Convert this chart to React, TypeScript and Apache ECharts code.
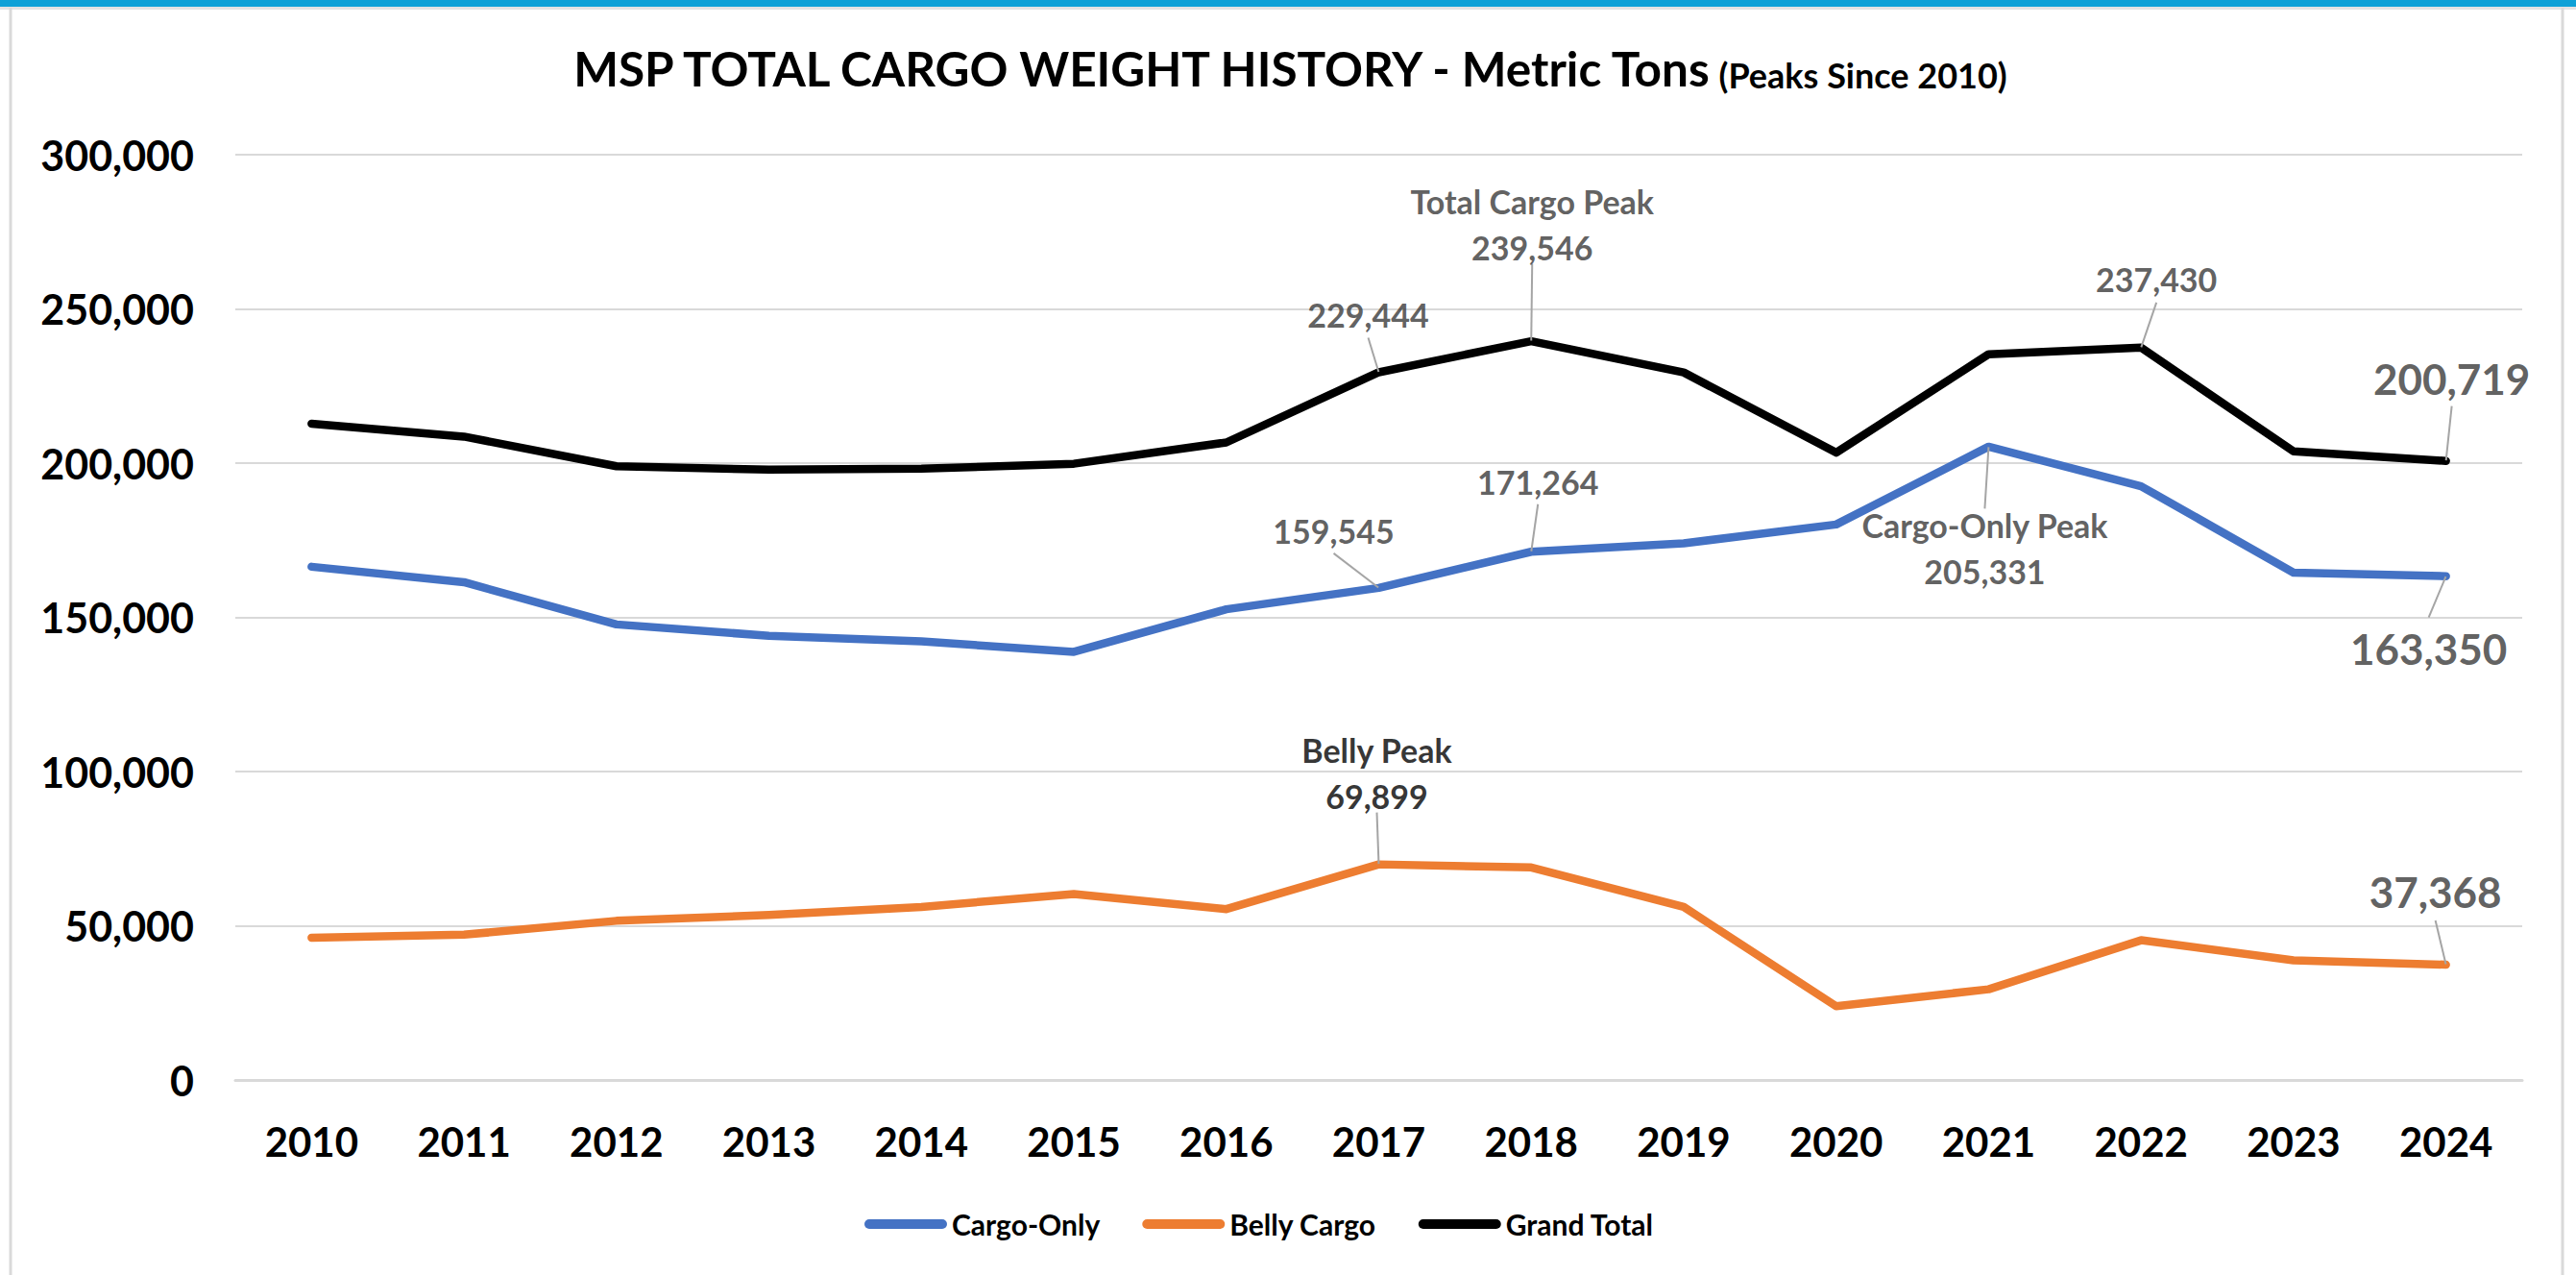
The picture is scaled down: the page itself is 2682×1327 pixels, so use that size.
import React, { useEffect, useRef } from 'react';
import * as echarts from 'echarts';

// ---------- data ----------
const years = ['2010', '2011', '2012', '2013', '2014', '2015', '2016', '2017', '2018', '2019', '2020', '2021', '2022', '2023', '2024'];
const cargoOnly = [166400, 161400, 147700, 144000, 142200, 138800, 152600, 159545, 171264, 174000, 180100, 205331, 192500, 164500, 163350];
const bellyCargo = [46100, 47100, 51600, 53500, 56100, 60300, 55400, 69899, 68900, 56100, 23900, 29400, 45300, 38800, 37368];
const grandTotal = [212800, 208600, 199000, 197900, 198200, 199800, 206700, 229444, 239546, 229400, 203400, 235300, 237430, 203800, 200719];
const seriesNames = ['Cargo-Only', 'Belly Cargo', 'Grand Total'];
const titleMain = 'MSP TOTAL CARGO WEIGHT HISTORY - Metric Tons';
const titleSub = '(Peaks Since 2010)';
const peakTitles = ['Total Cargo Peak', 'Cargo-Only Peak', 'Belly Peak'];

// ---------- style ----------
const FONT = 'Lato, "Liberation Sans", Arial, sans-serif';
const BLUE = '#4472C4';
const ORANGE = '#ED7D31';
const BLACK = '#000000';
const GRAY = '#383838';
const LEADER = '#A5A5A5';

const fmt = (v: number) => v.toLocaleString('en-US');

const leader = { show: true, smooth: false, lineStyle: { color: LEADER, width: 2, type: 'solid' } };

function single(values: number[], idx: number, dx: number, dy: number, size: number, lh: number, pad: number[], color = GRAY) {
  return {
    value: [idx, values[idx]],
    label: {
      show: true,
      position: 'inside',
      align: 'center',
      verticalAlign: 'middle',
      offset: [dx, dy],
      formatter: fmt(values[idx]),
      fontSize: size,
      fontWeight: 'bold',
      fontFamily: FONT,
      color,
      lineHeight: lh,
      padding: pad,
      textBorderWidth: 0,
      textBorderColor: 'transparent',
    },
    labelLine: leader,
  };
}

function double(values: number[], idx: number, head: string, dx: number, dy: number, pad: number[], color = GRAY) {
  const tok = { fontSize: 34, fontWeight: 'bold', fontFamily: FONT, color, lineHeight: 48, textBorderWidth: 0 };
  return {
    value: [idx, values[idx]],
    label: {
      show: true,
      position: 'inside',
      align: 'center',
      verticalAlign: 'middle',
      offset: [dx, dy],
      formatter: '{t|' + head + '}\n{v|' + fmt(values[idx]) + '}',
      padding: pad,
      textBorderWidth: 0,
      textBorderColor: 'transparent',
      rich: { t: { ...tok, align: 'center' }, v: { ...tok, align: 'center' } },
    },
    labelLine: leader,
  };
}

const annotationData = [
  double(grandTotal, 8, peakTitles[0], 1, -117, [0, 0, 9, 0]),
  single(grandTotal, 7, -11, -60, 34, 40, [0, 0, 8, 0]),
  single(grandTotal, 12, 16, -71, 34, 40, [0, 0, 8, 0]),
  single(grandTotal, 14, 6, -86, 44, 50, [0, 0, 8, 0]),
  single(cargoOnly, 8, 7, -73, 34, 40, [0, 0, 7, 0]),
  single(cargoOnly, 7, -47, -59, 34, 40, [0, 0, 6, 0]),
  double(cargoOnly, 11, peakTitles[1], -4, 101, [9, 0, 0, 0]),
  single(cargoOnly, 14, -18, 75, 44, 50, [14, 0, 0, 0]),
  double(bellyCargo, 7, peakTitles[2], -2, -92, [0, 0, 6, 0], BLACK),
  single(bellyCargo, 14, -11, -76, 44, 50, [0, 0, 10, 0]),
];

function lineSeries(name: string, data: number[], color: string) {
  return {
    name,
    type: 'line',
    data,
    color,
    showSymbol: false,
    symbol: 'none',
    silent: true,
    lineStyle: { color, width: 8.5, cap: 'round', join: 'round' },
    emphasis: { disabled: true },
    z: 2,
  };
}

const option: any = {
  animation: false,
  backgroundColor: '#ffffff',
  title: {
    text: '{a|' + titleMain + '} {b|' + titleSub + '}',
    left: 'center',
    top: 42,
    padding: 0,
    textStyle: {
      rich: {
        a: { fontSize: 49.5, fontWeight: 'bold', fontFamily: FONT, color: '#000', verticalAlign: 'bottom', lineHeight: 54 },
        b: { fontSize: 36, fontWeight: 'bold', fontFamily: FONT, color: '#000', verticalAlign: 'bottom', lineHeight: 54 },
      },
    },
  },
  legend: {
    data: seriesNames,
    left: 900,
    top: 1259,
    padding: 0,
    itemWidth: 86,
    itemHeight: 10,
    itemGap: 44,
    icon: 'path://M5,0 L81,0 A5,5 0 0 1 81,10 L5,10 A5,5 0 0 1 5,0 Z',
    textStyle: { fontSize: 30, fontWeight: 'bold', fontFamily: FONT, color: '#000' },
    selectedMode: false,
  },
  grid: { left: 245, top: 161, width: 2381, height: 963, containLabel: false, outerBoundsMode: 'none' },
  xAxis: {
    type: 'category',
    data: years,
    boundaryGap: true,
    axisLine: { show: true, lineStyle: { color: '#D9D9D9', width: 3 } },
    axisTick: { show: false },
    axisLabel: { fontSize: 42, fontWeight: 'bold', fontFamily: FONT, color: '#000', margin: 43, interval: 0 },
    splitLine: { show: false },
  },
  yAxis: {
    type: 'value',
    min: 0,
    max: 300000,
    interval: 50000,
    axisLine: { show: false },
    axisTick: { show: false },
    axisLabel: { fontSize: 43, fontWeight: 'bold', fontFamily: FONT, color: '#000', margin: 43, formatter: (v: number) => fmt(v) },
    splitLine: { show: true, lineStyle: { color: '#D9D9D9', width: 2 } },
  },
  series: [
    lineSeries(seriesNames[0], cargoOnly, BLUE),
    lineSeries(seriesNames[1], bellyCargo, ORANGE),
    lineSeries(seriesNames[2], grandTotal, BLACK),
    {
      name: 'annotations',
      type: 'scatter',
      data: annotationData,
      symbol: 'circle',
      symbolSize: 1,
      itemStyle: { color: 'rgba(0,0,0,0)' },
      silent: true,
      z: 5,
      emphasis: { disabled: true },
    },
  ],
  graphic: [
    { type: 'rect', shape: { x: 0, y: 0, width: 2682, height: 7 }, style: { fill: '#0EA1D7' }, z: 100 },
    { type: 'rect', shape: { x: 0, y: 7, width: 2682, height: 3 }, style: { fill: '#E3E3E3' }, z: 100 },
    { type: 'line', shape: { x1: 11, y1: 8, x2: 11, y2: 1327 }, style: { stroke: '#D9D9D9', lineWidth: 3 }, z: 100 },
    { type: 'line', shape: { x1: 2668, y1: 8, x2: 2668, y2: 1327 }, style: { stroke: '#D9D9D9', lineWidth: 3 }, z: 100 },
  ],
};

export default function App() {
  const ref = useRef<HTMLDivElement>(null);
  useEffect(() => {
    document.body.style.margin = '0';
    const chart = echarts.init(ref.current as HTMLDivElement, null, { renderer: 'svg' });
    chart.setOption(option);
    return () => chart.dispose();
  }, []);
  return <div ref={ref} style={{ width: 2682, height: 1327, background: '#ffffff' }} />;
}
